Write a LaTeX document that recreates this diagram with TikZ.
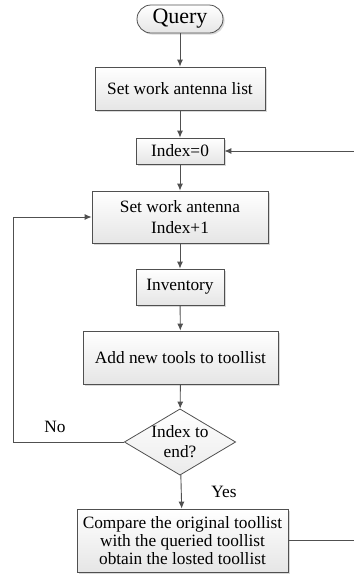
\documentclass[tikz,border=0pt]{standalone}
\usepackage{fontspec}
\setmainfont{Liberation Serif}
\usetikzlibrary{shapes.geometric,shadows,arrows.meta}
\definecolor{linec}{HTML}{505050}
\tikzset{
  boxst/.style={draw=linec, line width=0.8pt, rectangle, inner sep=0pt, align=center,
    top color=white, bottom color=black!10, drop shadow={shadow xshift=1.6pt, shadow yshift=-1.6pt, fill=black!25, opacity=0.6},
    font=\fontsize{17.3}{21}\selectfont},
  termst/.style={boxst, rounded corners=14pt, font=\fontsize{22}{24}\selectfont},
  decst/.style={draw=linec, line width=0.8pt, diamond, inner sep=0pt, align=center, aspect=1.68,
    top color=white, bottom color=black!8, font=\fontsize{17.3}{20}\selectfont},
  conn/.style={draw=linec, line width=0.9pt, -{Latex[length=7pt,width=6pt]}},
  lbl/.style={font=\fontsize{17.3}{20}\selectfont, inner sep=0pt}
}
\begin{document}
\begin{tikzpicture}[x=1pt,y=-1pt]
\useasboundingbox (0,0) rectangle (354,582);
\clip (0,0) rectangle (354,582);
\node[termst, minimum width=86pt, minimum height=28pt] (query) at (180,19) {Query};
\node[boxst, minimum width=170pt, minimum height=43pt] (list) at (180,88.5) {Set work antenna list};
\node[boxst, minimum width=88pt, minimum height=26pt] (idx) at (180,151) {Index=0};
\node[boxst, minimum width=176pt, minimum height=52pt] (setidx) at (180,217) {Set work antenna\\Index+1};
\node[boxst, minimum width=88pt, minimum height=36pt] (inv) at (180,287) {Inventory};
\node[boxst, minimum width=195pt, minimum height=53pt] (add) at (180.5,357.5) {Add new tools to toollist};
\node[decst, minimum width=105pt, minimum height=62pt] (dec) at (180,442) {Index to\\end?};
\node[boxst, minimum width=211pt, minimum height=63pt, font=\fontsize{17.3}{18}\selectfont] (cmp) at (182.5,540.5) {Compare the original toollist\\with the queried toollist\\obtain the losted toollist};
\coordinate (lft) at (13,442);
\coordinate (rgt) at (370,540.5);
\draw[conn] (query) -- (list);
\draw[conn] (list) -- (idx);
\draw[conn] (idx) -- (setidx);
\draw[conn] (setidx) -- (inv);
\draw[conn] (inv) -- (add);
\draw[conn] (add) -- (dec);
\draw[conn] (dec) -- (cmp);
\draw[conn] (dec.west) -- (lft) |- (setidx.west);
\draw[conn] (cmp.east) -- (rgt) |- (idx.east);
\node[lbl] (nolbl) at (55,427) {No};
\node[lbl] (yeslbl) at (224,492) {Yes};
\end{tikzpicture}
\end{document}
